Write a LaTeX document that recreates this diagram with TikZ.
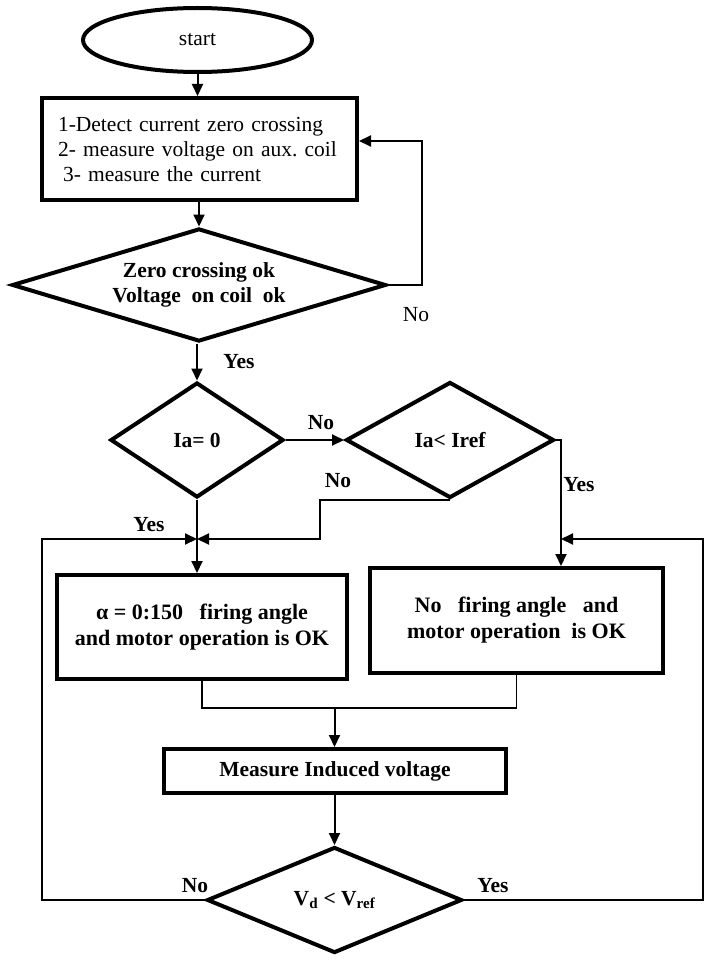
\documentclass[tikz,border=0pt]{standalone}
\usepackage{fontspec}
\setmainfont{Liberation Serif}
\usetikzlibrary{shapes.geometric,arrows.meta,calc}
\frenchspacing
\begin{document}
\begin{tikzpicture}[x=1pt,y=-1pt,
  every node/.style={font=\fontsize{21.5}{25}\selectfont, inner sep=0pt},
  shapebox/.style={draw, line width=4pt, rectangle},
  dshape/.style={draw, line width=4pt, diamond},
  conn/.style={line width=2pt, -{Triangle[length=12pt,width=11pt]}},
  plainln/.style={line width=2pt},
  thinln/.style={line width=1.5pt},
  lbl/.style={font=\fontsize{21.5}{25}\selectfont\bfseries},
  boxtxt/.style={font=\fontsize{22}{26}\selectfont\bfseries, align=center},
]
\useasboundingbox (0,0) rectangle (705,960);

% nodes
\node[shapebox, ellipse, minimum width=229pt, minimum height=64pt] (start) at (197.5,40) {start};
\node[shapebox, minimum width=315pt, minimum height=102pt, text width=283pt, inner xsep=16pt, align=left] (box1) at (199.5,149)
  {1-Detect current zero crossing\\2- measure voltage on aux. coil\\\hspace*{5pt}3- measure the current};
\node[dshape, minimum width=374pt, minimum height=113pt, aspect=3.3, lbl, align=center] (d1) at (199,285)
  {Zero crossing ok\\Voltage\ \ on coil\ \ ok};
\node[dshape, minimum width=173pt, minimum height=115pt, aspect=1.5, lbl] (ia) at (197,440) {Ia= 0};
\node[dshape, minimum width=208pt, minimum height=116pt, aspect=1.8, lbl] (iaref) at (450,440) {Ia< Iref};
\node[shapebox, minimum width=290pt, minimum height=104pt, boxtxt] (boxA) at (202,627)
  {α = 0:150\ \ \ firing angle\\and motor operation is OK};
\node[shapebox, minimum width=293pt, minimum height=105pt, boxtxt] (box2) at (516.5,620.5)
  {No\ \ \ firing angle\ \ \ and\\motor operation\ \ is OK};
\node[shapebox, minimum width=342pt, minimum height=44pt, lbl] (box3) at (335,771) {Measure Induced voltage};
\node[dshape, minimum width=255pt, minimum height=106pt, aspect=2.4, lbl] (vd) at (334.5,900)
  {V\textsubscript{d} < V\textsubscript{ref}};

% labels
\node (noA) at (416,315) {No};
\node[lbl] (yes1) at (239,362) {Yes};
\node[lbl] (no2) at (321,423) {No};
\node[lbl] (yes2) at (579,485) {Yes};
\node[lbl] (no3) at (338,481) {No};
\node[lbl] (yes3) at (149,525) {Yes};
\node[lbl] (no4) at (195,886) {No};
\node[lbl] (yes4) at (493,886) {Yes};

% coordinates
\coordinate (lp) at (422,141);
\coordinate (ry) at (561,440);
\coordinate (jn) at (197,539);
\coordinate (nb) at (320,498);
\coordinate (m) at (334.5,708);
\coordinate (lc) at (42,900);
\coordinate (rc) at (703,900);

% connectors
\draw[conn] (start.south) -- (start.south |- box1.north);
\draw[conn] (d1.north |- box1.south) -- (d1.north);
\draw[conn] (d1.east) -| (lp) -- (lp -| box1.east);
\draw[conn] (ia.north |- d1.south) -- (ia.north);
\draw[conn] (ia.east) -- (iaref.west);
\draw[conn] (iaref.east) -- (ry) -- (ry |- box2.north);
\draw[conn] (iaref.south) -| (nb |- jn) -- (jn);
\draw[conn] (ia.south) -- (ia.south |- boxA.north);
\draw[conn] (vd.west) -- (lc) |- (jn);
\draw[conn] (vd.east) -- (rc) |- (ry |- jn);
\draw[thinln] (boxA.south) -- (boxA.south |- m) -- (box2.south |- m) -- (box2.south);
\draw[conn] (m) -- (m |- box3.north);
\draw[conn] (vd.north |- box3.south) -- (vd.north);
\end{tikzpicture}
\end{document}
